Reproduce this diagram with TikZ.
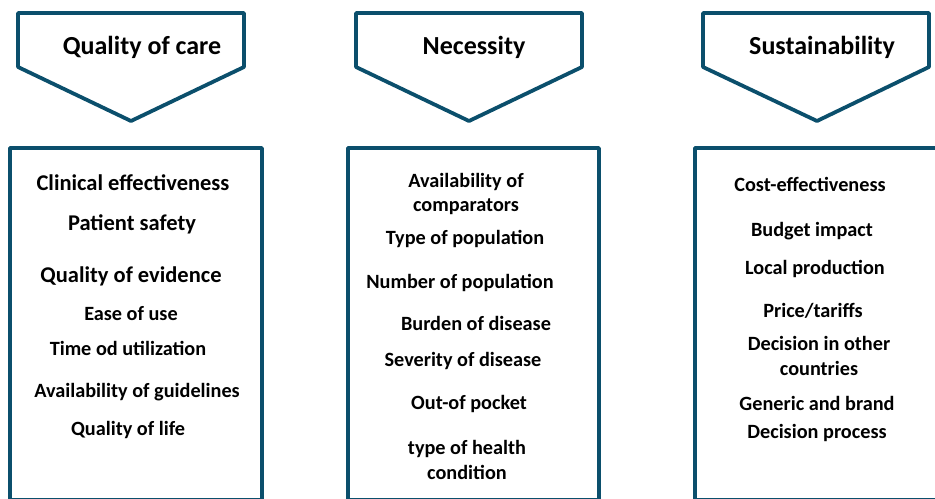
\documentclass[tikz,border=0pt]{standalone}
\usepackage{fontspec}
\setmainfont{Carlito}
\definecolor{tealframe}{HTML}{0B4F6C}

\begin{document}
\begin{tikzpicture}[
  x=0.025cm, y=-0.025cm,
  every node/.style={font=\bfseries\fontsize{14.4}{17.7}\selectfont, align=center, inner sep=1pt},
  head/.style={font=\bfseries\fontsize{18.5}{22}\selectfont},
  big/.style={font=\bfseries\fontsize{16}{19}\selectfont},
  frame/.style={draw=tealframe, line width=2.7pt, line join=round}
]
\useasboundingbox (0,0) rectangle (935,499);
% pentagon arrows on top
\draw[frame] (18,13)--(244,13)--(244,67)--(131,121)--(18,67)--cycle;
\draw[frame] (356,13)--(582,13)--(582,67)--(469,121)--(356,67)--cycle;
\draw[frame] (703,13)--(929,13)--(929,67)--(817,121)--(703,67)--cycle;
\node[head] (qoc) at (142,47) {Quality of care};
\node[head] (need) at (474,47) {Necessity};
\node[head] (sust) at (822,47) {Sustainability};
% criteria boxes (run off the page at the bottom)
\draw[frame] (10,148) rectangle (262,500);
\draw[frame] (348,148) rectangle (599,500);
\draw[frame] (695,148) rectangle (945,500);
% quality of care
\node[big] (clin) at (133,183) {Clinical effectiveness};
\node[big] (safety) at (132,224) {Patient safety};
\node[big] (evid) at (131,276) {Quality of evidence};
\node (ease) at (131,314) {Ease of use};
\node (time) at (128,348) {Time od utilization};
\node (guide) at (137,392) {Availability of guidelines};
\node (life) at (128,430) {Quality of life};
% necessity
\node (comp) at (466,194) {Availability of\\comparators};
\node (typepop) at (465,239) {Type of population};
\node (numpop) at (460,283) {Number of population};
\node (burden) at (476,323) {Burden of disease};
\node (severity) at (463,361) {Severity of disease};
\node (pocket) at (469,404) {Out-of pocket};
\node (health) at (467,460) {type of health\\condition};
% sustainability
\node (cost) at (810,184) {Cost-effectiveness};
\node (budget) at (812,231) {Budget impact};
\node (local) at (815,269) {Local production};
\node (price) at (813,311) {Price/tariffs};
\node (decision) at (819,356) {Decision in other\\countries};
\node (generic) at (817,419) {Generic and brand\\[2pt]Decision process};
\end{tikzpicture}
\end{document}
